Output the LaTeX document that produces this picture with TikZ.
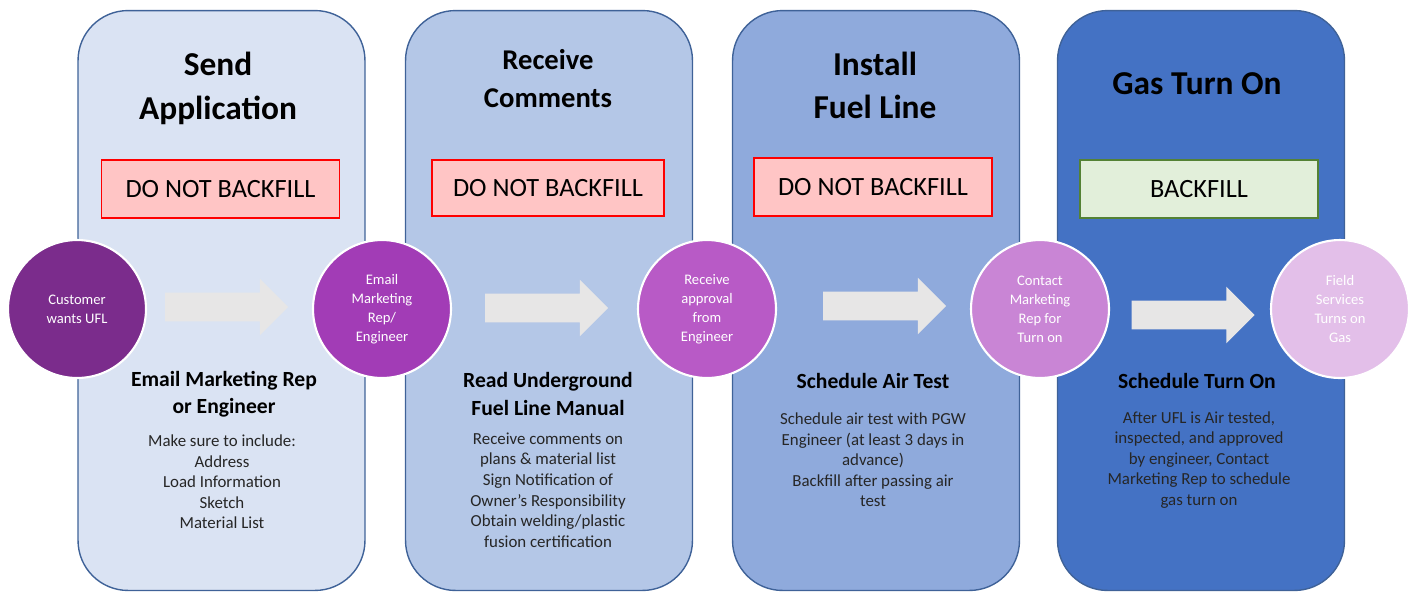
\documentclass[tikz,border=0pt]{standalone}
\usepackage{fontspec}
\setmainfont{Carlito}
\usetikzlibrary{shapes.arrows,calc}
\definecolor{paneA}{HTML}{DAE3F3}
\definecolor{paneB}{HTML}{B4C7E7}
\definecolor{paneC}{HTML}{8FAADC}
\definecolor{paneD}{HTML}{4472C4}
\definecolor{paneline}{HTML}{3F6298}
\definecolor{stopfill}{HTML}{FFC5C5}
\definecolor{gofill}{HTML}{E2EFDA}
\definecolor{goline}{HTML}{548235}
\definecolor{stepA}{HTML}{7B2C8C}
\definecolor{stepB}{HTML}{A23CB6}
\definecolor{stepC}{HTML}{B85AC6}
\definecolor{stepD}{HTML}{C985D5}
\definecolor{stepE}{HTML}{E3BFE9}
\definecolor{arrowfill}{HTML}{E7E6E6}
\definecolor{bodytext}{HTML}{262626}
\tikzset{
  panel/.style={draw=paneline, line width=0.8pt, rounded corners=1cm,
    minimum width=5.74cm, minimum height=11.6cm},
  stage/.style={circle, draw=white, line width=1.2pt, minimum size=2.76cm,
    inner sep=0pt, text=white, align=center, font=\fontsize{8.3}{10.8}\selectfont},
  stopbox/.style={draw=red, line width=0.8pt, fill=stopfill,
    minimum width=4.76cm, minimum height=1.16cm, font=\fontsize{15}{18}\selectfont},
  gobox/.style={stopbox, draw=goline, fill=gofill},
  heading/.style={align=center, font=\fontsize{19}{25}\selectfont\bfseries},
  subhead/.style={align=center, font=\fontsize{12.3}{15.4}\selectfont\bfseries},
  body/.style={align=center, text=bodytext, font=\fontsize{9.6}{11.7}\selectfont},
  blockarrow/.style={single arrow, fill=arrowfill, draw=none, inner xsep=0pt,
    inner ysep=0.28cm, single arrow head extend=0.28cm, minimum height=2.46cm}
}
\begin{document}
\begin{tikzpicture}[x=0.02cm, y=-0.02cm]
\useasboundingbox (0,0) rectangle (1412,593);
% the four stages
\node[panel, fill=paneA] (p1) at (221.5,300.5) {};
\node[panel, fill=paneB] (p2) at (549,300.5) {};
\node[panel, fill=paneC] (p3) at (876,300.5) {};
\node[panel, fill=paneD] (p4) at (1201,300.5) {};
\node[heading] (t1) at (218,88) {Send\\Application};
\node[heading, font=\fontsize{16.3}{21.6}\selectfont\bfseries] (t2) at (548,79) {Receive\\Comments};
\node[heading, font=\fontsize{19}{24.5}\selectfont\bfseries] (t3) at (875,85) {Install\\Fuel Line};
\node[heading] (t4) at (1197,84) {Gas Turn On};
\node[stopbox] (b1) at (220.5,189) {DO NOT BACKFILL};
\node[stopbox, minimum width=4.64cm, minimum height=1.12cm] (b2) at (548,188) {DO NOT BACKFILL};
\node[stopbox] (b3) at (873,187) {DO NOT BACKFILL};
\node[gobox] (b4) at (1199,189) {BACKFILL};
% milestones
\node[stage, fill=stepA] (c1) at (77,309) {Customer\\wants UFL};
\node[stage, fill=stepB] (c2) at (382,309) {Email\\Marketing\\Rep/\\Engineer};
\node[stage, fill=stepC] (c3) at (707,309) {Receive\\approval\\from\\Engineer};
\node[stage, fill=stepD] (c4) at (1040,309) {Contact\\Marketing\\Rep for\\Turn on};
\node[stage, fill=stepE] (c5) at (1340,309) {Field\\Services\\Turns on\\Gas};
\node[blockarrow] (a1) at ($(c1)!0.5!(c2)+(-10,-2)$) {};
\node[blockarrow] (a2) at ($(c2)!0.5!(c3)+(-5,-1)$) {};
\node[blockarrow] (a3) at ($(c3)!0.5!(c4)+(4,-3)$) {};
\node[blockarrow] (a4) at ($(c4)!0.5!(c5)+(-4,6)$) {};
% what to do
\node[subhead] (s1) at (224,394) {Email Marketing Rep\\or Engineer};
\node[subhead] (s2) at (548,394) {Read Underground\\Fuel Line Manual};
\node[subhead] (s3) at (873,381) {Schedule Air Test};
\node[subhead] (s4) at (1197,381) {Schedule Turn On};
\node[body] (d1) at (222,482) {Make sure to include:\\Address\\Load Information\\Sketch\\Material List};
\node[body] (d2) at (548,490) {Receive comments on\\plans \& material list\\Sign Notification of\\Owner's Responsibility\\Obtain welding/plastic\\fusion certification};
\node[body] (d3) at (873,460) {Schedule air test with PGW\\Engineer (at least 3 days in\\advance)\\Backfill after passing air\\test};
\node[body] (d4) at (1199,460) {After UFL is Air tested,\\inspected, and approved\\by engineer, Contact\\Marketing Rep to schedule\\gas turn on};
\end{tikzpicture}
\end{document}
